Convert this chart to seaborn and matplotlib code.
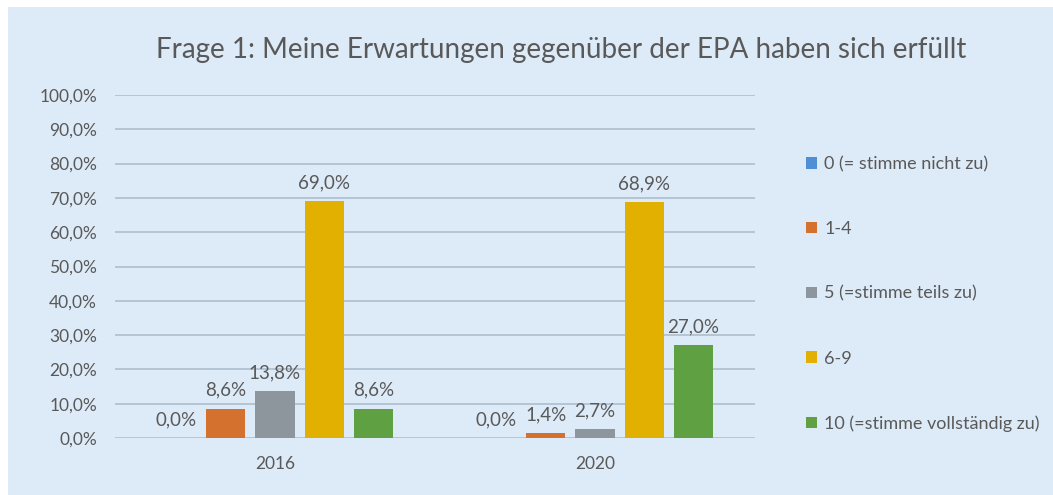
import numpy as np
import pandas as pd
import matplotlib
matplotlib.use("Agg")
import matplotlib.pyplot as plt
import seaborn as sns

# === Data ===
years = ["2016", "2020"]
answers = ["0 (= stimme nicht zu)", "1-4", "5 (=stimme teils zu)", "6-9",
           "10 (=stimme vollständig zu)"]
share_2016 = [0.0, 8.6, 13.8, 69.0, 8.6]
share_2020 = [0.0, 1.4, 2.7, 68.9, 27.0]
title = "Frage 1: Meine Erwartungen gegenüber der EPA haben sich erfüllt"

colors = ["#4E8FD6", "#D4712F", "#8D959D", "#E1B000", "#5FA043"]
bg = "#DDEAF7"
text_col = "#595959"

df = pd.DataFrame({
    "Jahr": [years[0]] * len(answers) + [years[1]] * len(answers),
    "Antwort": answers * 2,
    "Anteil": share_2016 + share_2020,
})

sns.set_style("white")
plt.rcParams["font.family"] = ["Lato", "DejaVu Sans"]

fig = plt.figure(figsize=(10.53, 4.95), dpi=100)
fig.patch.set_facecolor("white")
# blue chart area (leaves a thin white margin top/left)
fig.patches.append(plt.Rectangle((8 / 1053, 0), 1, 1 - 7 / 495, transform=fig.transFigure,
                                 facecolor=bg, edgecolor="none", zorder=-10))

ax = fig.add_axes([115 / 1053, 1 - 438 / 495, 640 / 1053, 343 / 495])
ax.set_facecolor(bg)

sns.barplot(data=df, x="Jahr", y="Anteil", hue="Antwort", hue_order=answers,
            palette=colors, width=0.77, gap=0.2, ax=ax, errorbar=None,
            saturation=1, linewidth=0)

ax.set_ylim(0, 100)
ax.set_yticks(np.arange(0, 101, 10))
ax.set_yticklabels([f"{v},0%" for v in range(0, 101, 10)], color=text_col, fontsize=12.5)
ax.tick_params(axis="x", length=0, pad=13, labelcolor=text_col, labelsize=12.5)
ax.tick_params(axis="y", length=0, pad=13)
ax.grid(axis="y", color="#B5C4D4", linewidth=1.4)
ax.set_axisbelow(True)
for s in ax.spines.values():
    s.set_visible(False)
ax.set_xlabel("")
ax.set_ylabel("")

for cont in ax.containers:
    labels = [f"{b.get_height():.1f}%".replace(".", ",") for b in cont]
    ax.bar_label(cont, labels=labels, padding=7, color=text_col, fontsize=13.5)

fig.text(561 / 1053, 1 - 50 / 495, title, ha="center", va="center", fontsize=20, color=text_col)

sns.move_legend(ax, "center left", bbox_to_anchor=(790 / 1053, 1 - 294 / 495),
                bbox_transform=fig.transFigure, frameon=False, title=None,
                fontsize=13, labelspacing=2.7, handlelength=0.6, handleheight=0.6,
                handletextpad=0.4, labelcolor=text_col)

fig.savefig("out.png", dpi=100, facecolor=fig.get_facecolor())
